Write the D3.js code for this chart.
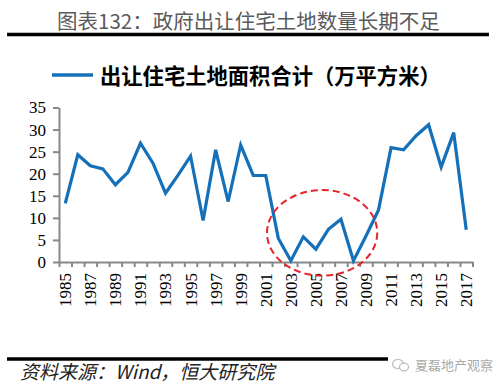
<!DOCTYPE html>
<html>
<head>
<meta charset="utf-8">
<script src="https://cdn.jsdelivr.net/npm/d3@7"></script>
<style>
  body { margin: 0; background: #fff; }
  svg { display: block; }
  .tick text { font-family: "Liberation Serif", "DejaVu Serif", serif; font-size: 17px; fill: #000; }
</style>
</head>
<body>
<div id="chart"></div>
<script>
var years = ["1985","1986","1987","1988","1989","1990","1991","1992","1993","1994","1995",
  "1996","1997","1998","1999","2000","2001","2002","2003","2004","2005","2006","2007",
  "2008","2009","2010","2011","2012","2013","2014","2015","2016","2017"];
var landArea = [13.3, 24.3, 21.8, 21.1, 17.5, 20.3, 26.9, 22.4, 15.6, 19.7, 24.0,
  9.4, 25.4, 13.7, 26.5, 19.6, 19.6, 5.4, 0.3, 5.7, 2.9, 7.4, 9.7,
  0.3, 5.9, 11.8, 25.9, 25.4, 28.6, 31.1, 21.5, 29.3, 7.3];
var yTicks = [0, 5, 10, 15, 20, 25, 30, 35];
var seriesName = "出让住宅土地面积合计（万平方米）";
var titleText = "图表132：政府出让住宅土地数量长期不足";
var sourceText = "资料来源：Wind，恒大研究院";
var watermarkText = "夏磊地产观察";
// circled area: centre (band boundary index, value) and radii in the same units
var circleNote = [{ at: 21.0, value: 6.6, rIndex: 4.4, rValue: 9.7 }];

var W = 502, H = 386;
var plotLeft = 59, plotRight = 472.5, plotTop = 107.5, plotBottom = 262;

var svg = d3.select("#chart").append("svg")
  .attr("width", W)
  .attr("height", H);

var x = d3.scaleBand().domain(years).range([plotLeft, plotRight]).paddingInner(0).paddingOuter(0);
var xi = d3.scaleLinear().domain([0, years.length]).range([plotLeft, plotRight]);
var y = d3.scaleLinear().domain([0, 35]).range([plotBottom, plotTop]);

// title + rules
svg.append("text")
  .attr("x", 57).attr("y", 29)
  .style("font", "20.5px 'Noto Sans CJK SC'")
  .style("fill", "#5a5a5a")
  .text(titleText);

svg.append("line")
  .attr("x1", 7).attr("x2", 489).attr("y1", 34.5).attr("y2", 34.5)
  .style("stroke", "#000").style("stroke-width", 3.5);

svg.append("line")
  .attr("x1", 7).attr("x2", 489).attr("y1", 359).attr("y2", 359)
  .style("stroke", "#000").style("stroke-width", 3.5);

// legend
svg.append("line")
  .attr("x1", 52).attr("x2", 93).attr("y1", 75).attr("y2", 75)
  .style("stroke", "#1470b8").style("stroke-width", 3.5);

svg.append("text")
  .attr("x", 100).attr("y", 84)
  .style("font", "bold 21.3px 'Noto Sans CJK SC'")
  .style("fill", "#000")
  .text(seriesName);

// y axis
var yAxis = svg.append("g")
  .attr("transform", "translate(" + plotLeft + ",0)")
  .call(d3.axisLeft(y).tickValues(yTicks).tickSize(6).tickSizeOuter(0).tickPadding(7));

// x axis: ticks on band boundaries, labels on every other year
var xTickAxis = svg.append("g")
  .attr("transform", "translate(0," + plotBottom + ")")
  .call(d3.axisBottom(xi).tickValues(d3.range(years.length + 1)).tickSize(5).tickSizeOuter(0).tickFormat(""));

var xLabels = svg.append("g")
  .attr("transform", "translate(0," + plotBottom + ")")
  .call(d3.axisBottom(x).tickValues(years.filter(function(d, i) { return i % 2 == 0; })).tickSize(0));

xLabels.select(".domain").remove();
xLabels.selectAll("text")
  .attr("transform", "rotate(-90)")
  .attr("x", -11)
  .attr("y", 0)
  .attr("dy", "0.35em")
  .style("text-anchor", "end");

[yAxis, xTickAxis].forEach(function(g) {
  g.selectAll("path, line").style("stroke", "#888").style("stroke-width", 2);
});

// series line
var line = d3.line()
  .x(function(d, i) { return x(years[i]) + x.bandwidth() / 2; })
  .y(function(d) { return y(d); });

svg.append("path")
  .datum(landArea)
  .attr("d", line)
  .style("fill", "none")
  .style("stroke", "#1470b8")
  .style("stroke-width", 3.2)
  .style("stroke-linejoin", "miter");

// red dashed circle annotation
svg.selectAll("ellipse.note")
  .data(circleNote)
  .enter().append("ellipse")
  .attr("class", "note")
  .attr("cx", function(d) { return xi(d.at); })
  .attr("cy", function(d) { return y(d.value); })
  .attr("rx", function(d) { return xi(d.rIndex) - xi(0); })
  .attr("ry", function(d) { return y(0) - y(d.rValue); })
  .style("fill", "none")
  .style("stroke", "#e5242b")
  .style("stroke-width", 2)
  .style("stroke-dasharray", "7,4");

// source
svg.append("text")
  .attr("x", 20).attr("y", 379)
  .style("font", "italic 19px 'Noto Sans CJK SC'")
  .style("fill", "#222")
  .text(sourceText);

// watermark
var wm = svg.append("g").attr("transform", "translate(388,354)");
wm.append("rect")
  .attr("width", 102).attr("height", 22)
  .style("fill", "#fff");
wm.append("ellipse")
  .attr("cx", 10).attr("cy", 10).attr("rx", 5.5).attr("ry", 4.5)
  .style("fill", "none").style("stroke", "#bbb").style("stroke-width", 1.2);
wm.append("ellipse")
  .attr("cx", 16).attr("cy", 13).attr("rx", 4.5).attr("ry", 3.8)
  .style("fill", "#fff").style("stroke", "#bbb").style("stroke-width", 1.2);
wm.append("text")
  .attr("x", 27).attr("y", 16)
  .style("font", "13px 'Noto Sans CJK SC'")
  .style("fill", "#aaa")
  .text(watermarkText);
</script>
</body>
</html>
